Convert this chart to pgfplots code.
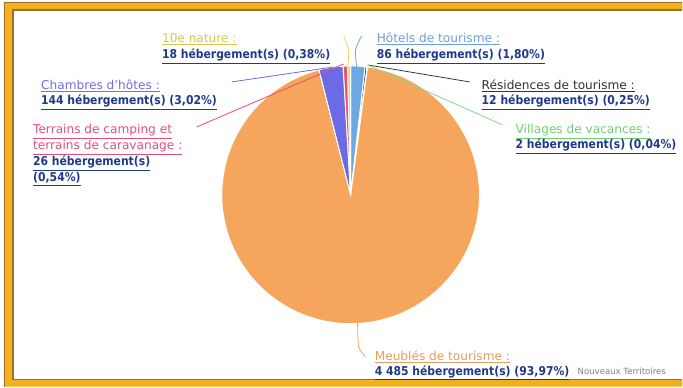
\documentclass[border=0pt]{standalone}
\usepackage{pgfplots}
\pgfplotsset{compat=1.18}
\usepackage{fontspec}
\setmainfont{DejaVu Sans}
\newfontfamily\valfont[FakeStretch=0.89]{DejaVu Sans}
\definecolor{cHot}{HTML}{6CA8E2}
\definecolor{cRes}{HTML}{333333}
\definecolor{cVil}{HTML}{86DC86}
\definecolor{cMeu}{HTML}{F5A55C}
\definecolor{cCha}{HTML}{6B6BE8}
\definecolor{cTer}{HTML}{E8506E}
\definecolor{cNat}{HTML}{E8D860}
\definecolor{tHot}{HTML}{6CA0DC}
\definecolor{tRes}{HTML}{333333}
\definecolor{tVil}{HTML}{70D070}
\definecolor{tMeu}{HTML}{E0A060}
\definecolor{tCha}{HTML}{7070E0}
\definecolor{tTer}{HTML}{E0507A}
\definecolor{tNat}{HTML}{D8C84A}
\definecolor{navy}{HTML}{1F3A8A}
\definecolor{gold}{HTML}{F2B01E}
\definecolor{goldedge}{HTML}{A0702A}
\newcommand\nm[2]{\textcolor{#1}{\underline{#2}}}
\newcommand\vl[1]{\textcolor{navy}{\underline{{\valfont\bfseries #1}}}}
\begin{document}
\begin{tikzpicture}[x=1bp, y=1bp]
% frame (cut off at the right and bottom, as in the reference)
\fill[white] (0,0) rectangle (683,387);
\fill[gold] (683,385) -- (4,385) -- (4,0) -- (683,0) -- (683,7)
   -- (13,7) -- (13,377) -- (683,377) -- cycle;
\draw[goldedge, line width=1.4bp] (683,384.3) -- (4.7,384.3) -- (4.7,0);
\draw[goldedge, line width=1.4bp] (683,377) -- (13,377) -- (13,7) -- (683,7);
\begin{axis}[x=1bp, y=1bp, xmin=0, xmax=683, ymin=0, ymax=387,
  hide axis, clip=false, scale only axis, anchor=origin, at={(0,0)}]
% pie slices, counts clockwise from 12 o'clock
\pgfplotsextra{
  \gdef\startang{90}
  \foreach \n/\c in {86/cHot,12/cRes,2/cVil,4485/cMeu,144/cCha,26/cTer,18/cNat}{
    \pgfmathsetmacro\endang{\startang-\n/4773*360}
    \fill[\c, draw=white, line width=1bp] (axis cs:351,192) -- ++(\startang:129bp)
      arc[start angle=\startang, end angle=\endang, radius=129bp] -- cycle;
    \xdef\startang{\endang}
  }
}
% leader lines
\addplot[cNat, line width=0.8pt, smooth] coordinates {(344,351) (349,337) (348,320)};
\addplot[cHot, line width=0.8pt, smooth] coordinates {(362,351) (356,337) (357,320)};
\addplot[cRes, line width=0.8pt] coordinates {(368,322) (470,305)};
\addplot[cVil, line width=0.8pt] coordinates {(368,322) (503,262)};
\addplot[cCha, line width=0.8pt] coordinates {(232,305) (334,320)};
\addplot[cTer, line width=0.8pt] coordinates {(197,260) (344,323)};
\addplot[cMeu, line width=0.8pt, smooth] coordinates {(358,64) (359,40) (366,30)};
% labels
\begin{scope}[every node/.style={anchor=base west, inner sep=0pt, font=\fontsize{12.2}{14}\selectfont}]
\node at (axis cs:162,344) {\nm{tNat}{10e nature :}};
\node at (axis cs:162,328) {\vl{18 hébergement(s) (0,38\%)}};
\node at (axis cs:377,344) {\nm{tHot}{Hôtels de tourisme :}};
\node at (axis cs:377,328) {\vl{86 hébergement(s) (1,80\%)}};
\node at (axis cs:482,297) {\nm{tRes}{Résidences de tourisme :}};
\node at (axis cs:482,282) {\vl{12 hébergement(s) (0,25\%)}};
\node at (axis cs:516,253) {\nm{tVil}{Villages de vacances :}};
\node at (axis cs:516,238) {\vl{2 hébergement(s) (0,04\%)}};
\node at (axis cs:41,297) {\nm{tCha}{Chambres d'hôtes :}};
\node at (axis cs:41,282) {\vl{144 hébergement(s) (3,02\%)}};
\node at (axis cs:33,253) {\nm{tTer}{Terrains de camping et}};
\node at (axis cs:33,237) {\nm{tTer}{terrains de caravanage :}};
\node at (axis cs:33,221) {\vl{26 hébergement(s)}};
\node at (axis cs:33,205) {\vl{(0,54\%)}};
\node at (axis cs:375,26) {\nm{tMeu}{Meublés de tourisme :}};
\node at (axis cs:375,11) {\vl{4 485 hébergement(s) (93,97\%)}};
\node[font=\fontsize{8.6}{9}\selectfont, text=gray] at (axis cs:578,12) {Nouveaux Territoires};
\end{scope}
\end{axis}
\end{tikzpicture}
\end{document}
